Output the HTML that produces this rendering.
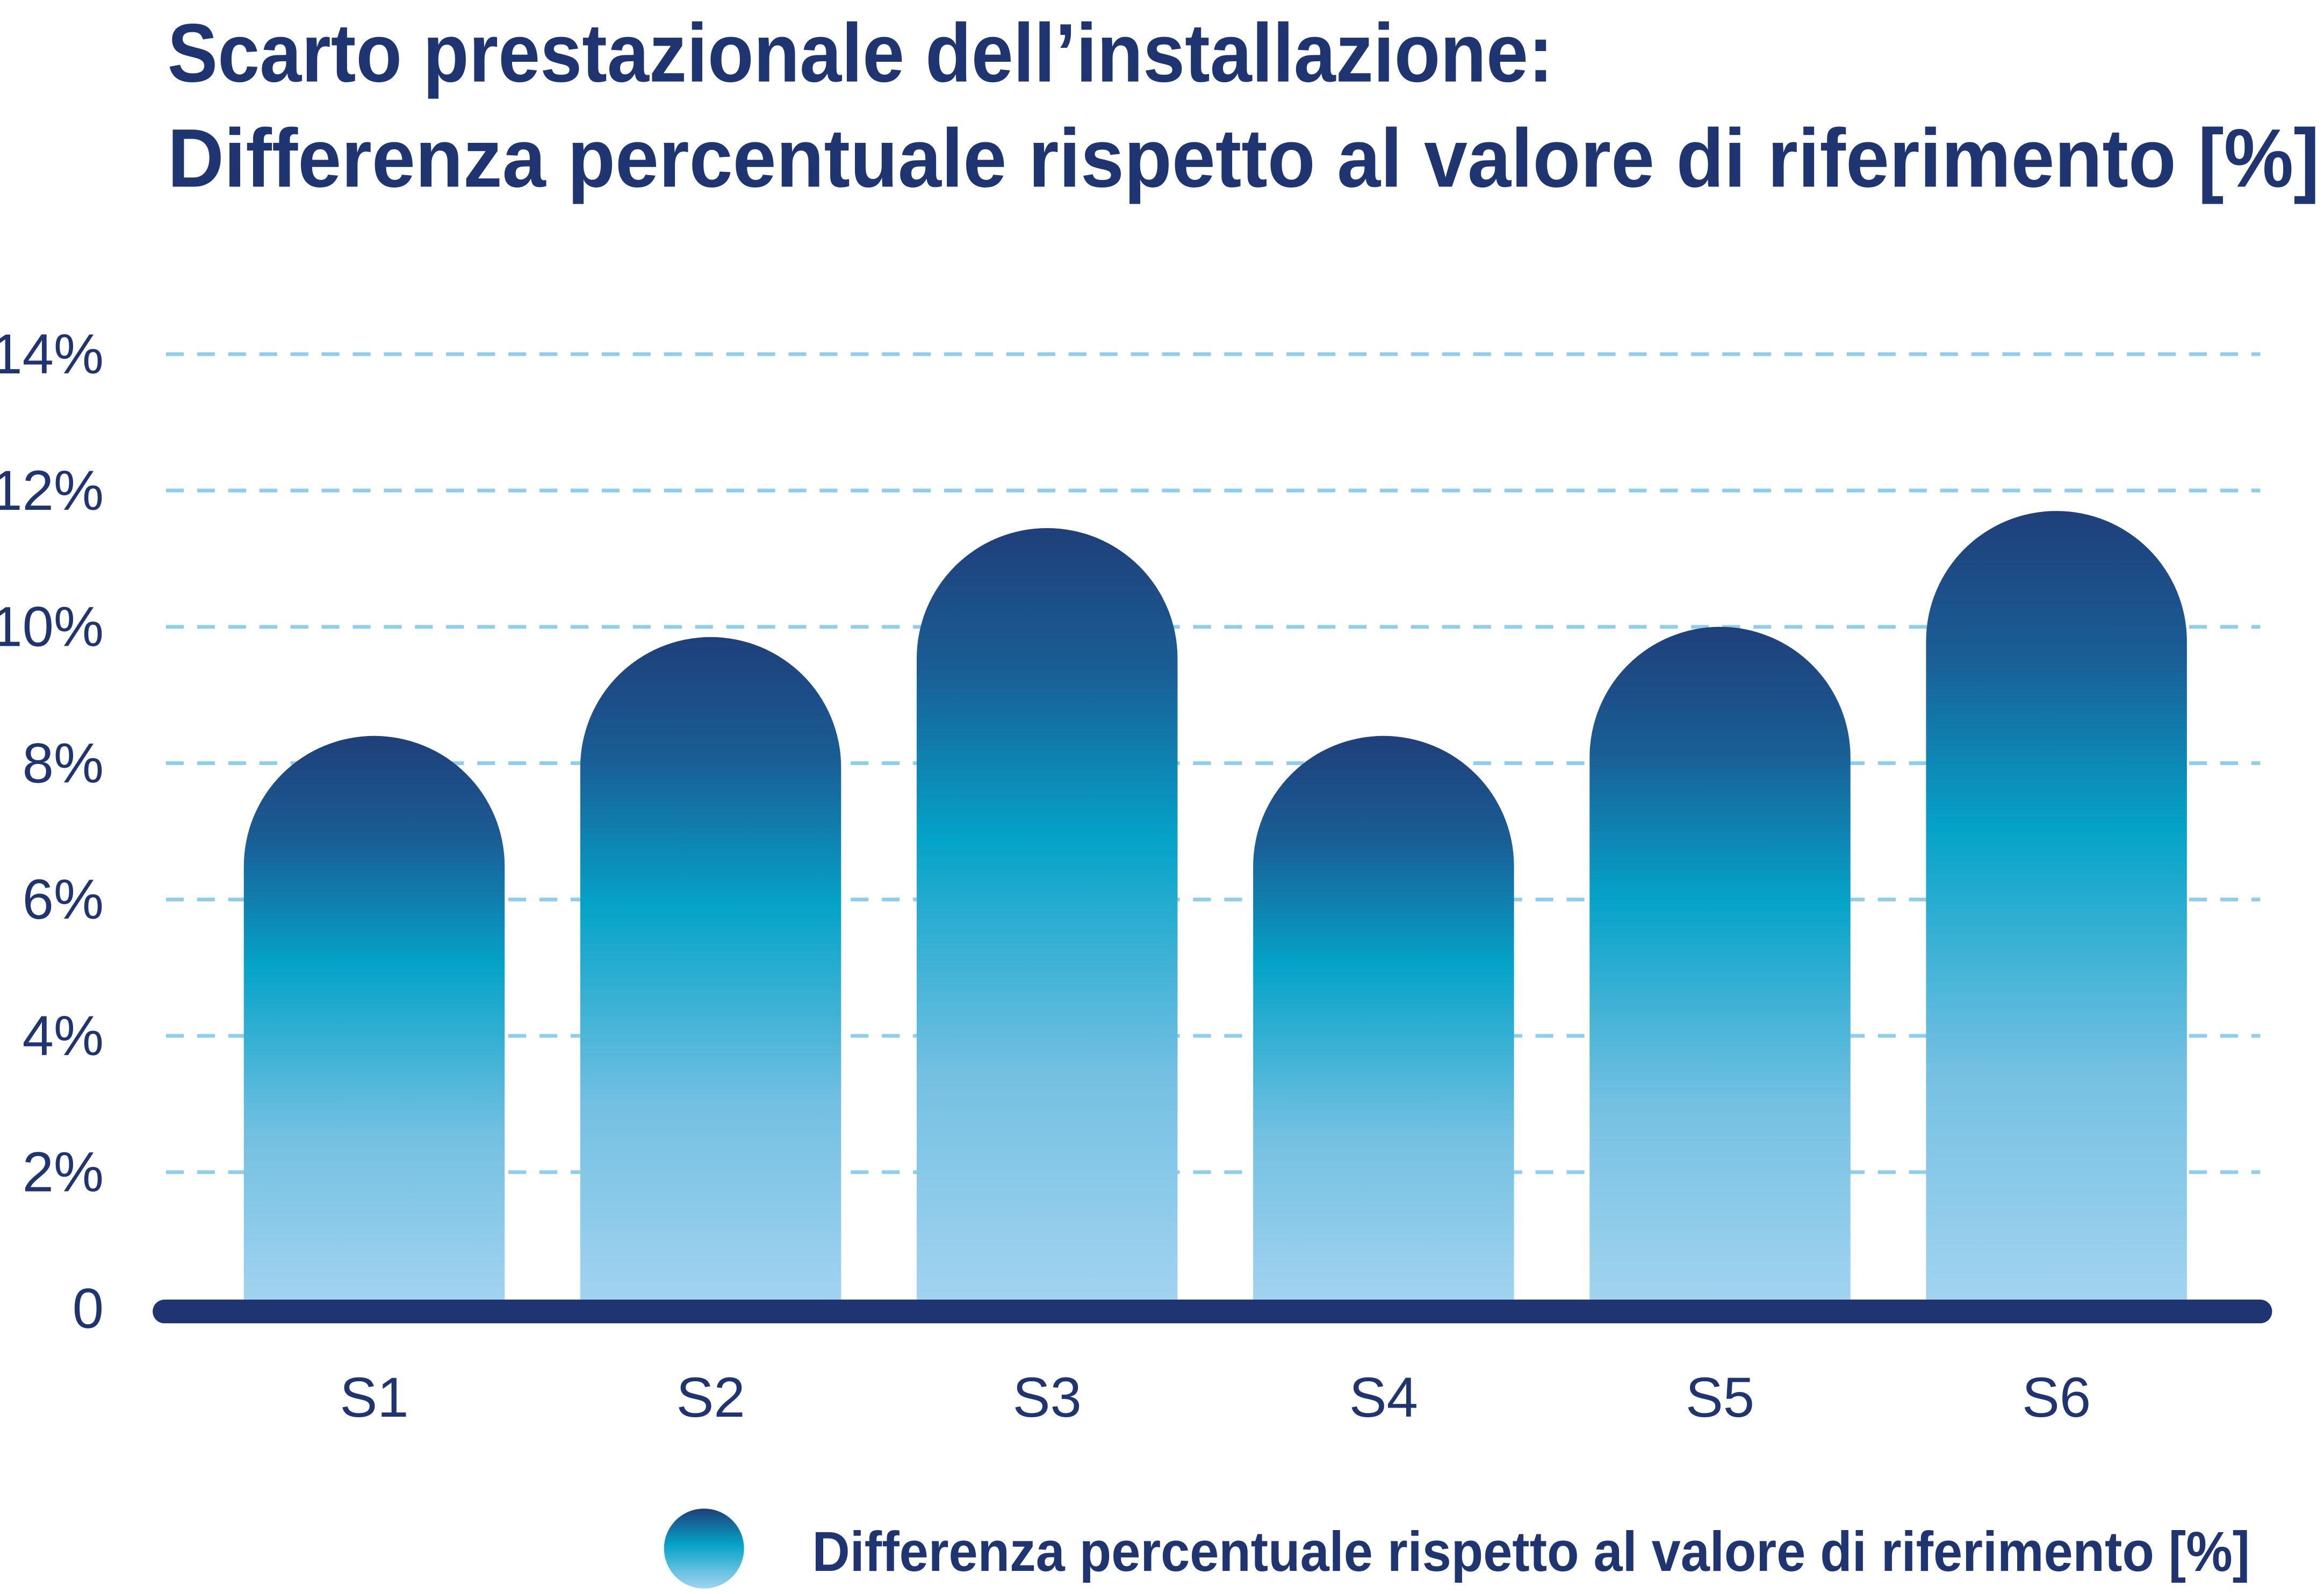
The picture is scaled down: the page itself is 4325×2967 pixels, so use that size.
<!DOCTYPE html>
<html><head><meta charset="utf-8">
<style>
html,body{margin:0;padding:0;background:#fff;}
svg{display:block;}
text{font-family:"Liberation Sans",sans-serif;}
</style></head>
<body>
<svg id="chart" width="4325" height="2967" viewBox="0 0 1568 1075.66" preserveAspectRatio="none" xmlns="http://www.w3.org/2000/svg">
<defs>
<linearGradient id="barGrad" x1="0" y1="0" x2="0" y2="1">
<stop offset="0" stop-color="#1f3f7a"/>
<stop offset="0.18" stop-color="#1a5d95"/>
<stop offset="0.4" stop-color="#05a3c8"/>
<stop offset="0.7" stop-color="#74c0e2"/>
<stop offset="1" stop-color="#a3d4f0"/>
</linearGradient>
<linearGradient id="legGrad" x1="0" y1="0" x2="0" y2="1">
<stop offset="0" stop-color="#1f3f7a"/>
<stop offset="0.45" stop-color="#05a3c8"/>
<stop offset="1" stop-color="#a3d4f0"/>
</linearGradient>
</defs>
<text x="113" y="55" font-size="56" font-weight="bold" fill="#1f3572" textLength="935" lengthAdjust="spacingAndGlyphs">Scarto prestazionale dell’installazione:</text>
<text x="113" y="126" font-size="56" font-weight="bold" fill="#1f3572" textLength="1452" lengthAdjust="spacingAndGlyphs">Differenza percentuale rispetto al valore di riferimento [%]</text>
<g id="grid"></g>
<g id="bars"></g>
<rect x="103" y="877" width="1430" height="16" rx="8" fill="#1f3572"/>
<g id="xlabels"></g>
<circle cx="475" cy="1045" r="27" fill="url(#legGrad)"/>
<text x="548" y="1060" font-size="38" font-weight="bold" fill="#1f3572" textLength="970" lengthAdjust="spacingAndGlyphs">Differenza percentuale rispetto al valore di riferimento [%]</text>
</svg>
<script>
const categories = ["S1","S2","S3","S4","S5","S6"];
const values = [8.4, 9.85, 11.45, 8.4, 10.0, 11.7];
const yTicks = [0,2,4,6,8,10,12,14];
const yTickLabels = ["0","2%","4%","6%","8%","10%","12%","14%"];

const NS = "http://www.w3.org/2000/svg";
const y0 = 883, pxPer = 46;
function yScale(v){ return y0 - v*pxPer; }
const bandStart = 138, bandW = 227, barW = 176;
function xCenter(i){ return bandStart + bandW*i + bandW/2 + 1; }

const grid = document.getElementById("grid");
yTicks.forEach((t,i)=>{
  const y = yScale(t);
  if (t>0){
    const l = document.createElementNS(NS,"line");
    
    
    l.setAttribute("x1",112); l.setAttribute("x2",1525);
    l.setAttribute("y1",y); l.setAttribute("y2",y);
    l.setAttribute("stroke","#8fcdef"); l.setAttribute("stroke-width","2.5");
    l.setAttribute("stroke-dasharray","12 9");
    grid.appendChild(l);
  }
  const tx = document.createElementNS(NS,"text");
  
  
  tx.setAttribute("x",70); tx.setAttribute("y",y+13);
  tx.setAttribute("text-anchor","end"); tx.setAttribute("font-size","38");
  tx.setAttribute("fill","#1f3572");
  tx.textContent = yTickLabels[i];
  grid.appendChild(tx);
});

const bars = document.getElementById("bars");
const xl = document.getElementById("xlabels");
values.forEach((v,i)=>{
  const cx = xCenter(i), x = cx - barW/2, r = barW/2;
  const top = yScale(v);
  const p = document.createElementNS(NS,"path");
  
  
  p.setAttribute("d",`M${x},${y0} L${x},${top+r} A${r},${r} 0 0 1 ${x+barW},${top+r} L${x+barW},${y0} Z`);
  p.setAttribute("fill","url(#barGrad)");
  bars.appendChild(p);
  const t = document.createElementNS(NS,"text");
  
  
  t.setAttribute("x",cx); t.setAttribute("y",956);
  t.setAttribute("text-anchor","middle"); t.setAttribute("font-size","38");
  t.setAttribute("fill","#1f3572");
  t.textContent = categories[i];
  xl.appendChild(t);
});
</script>
</body></html>
